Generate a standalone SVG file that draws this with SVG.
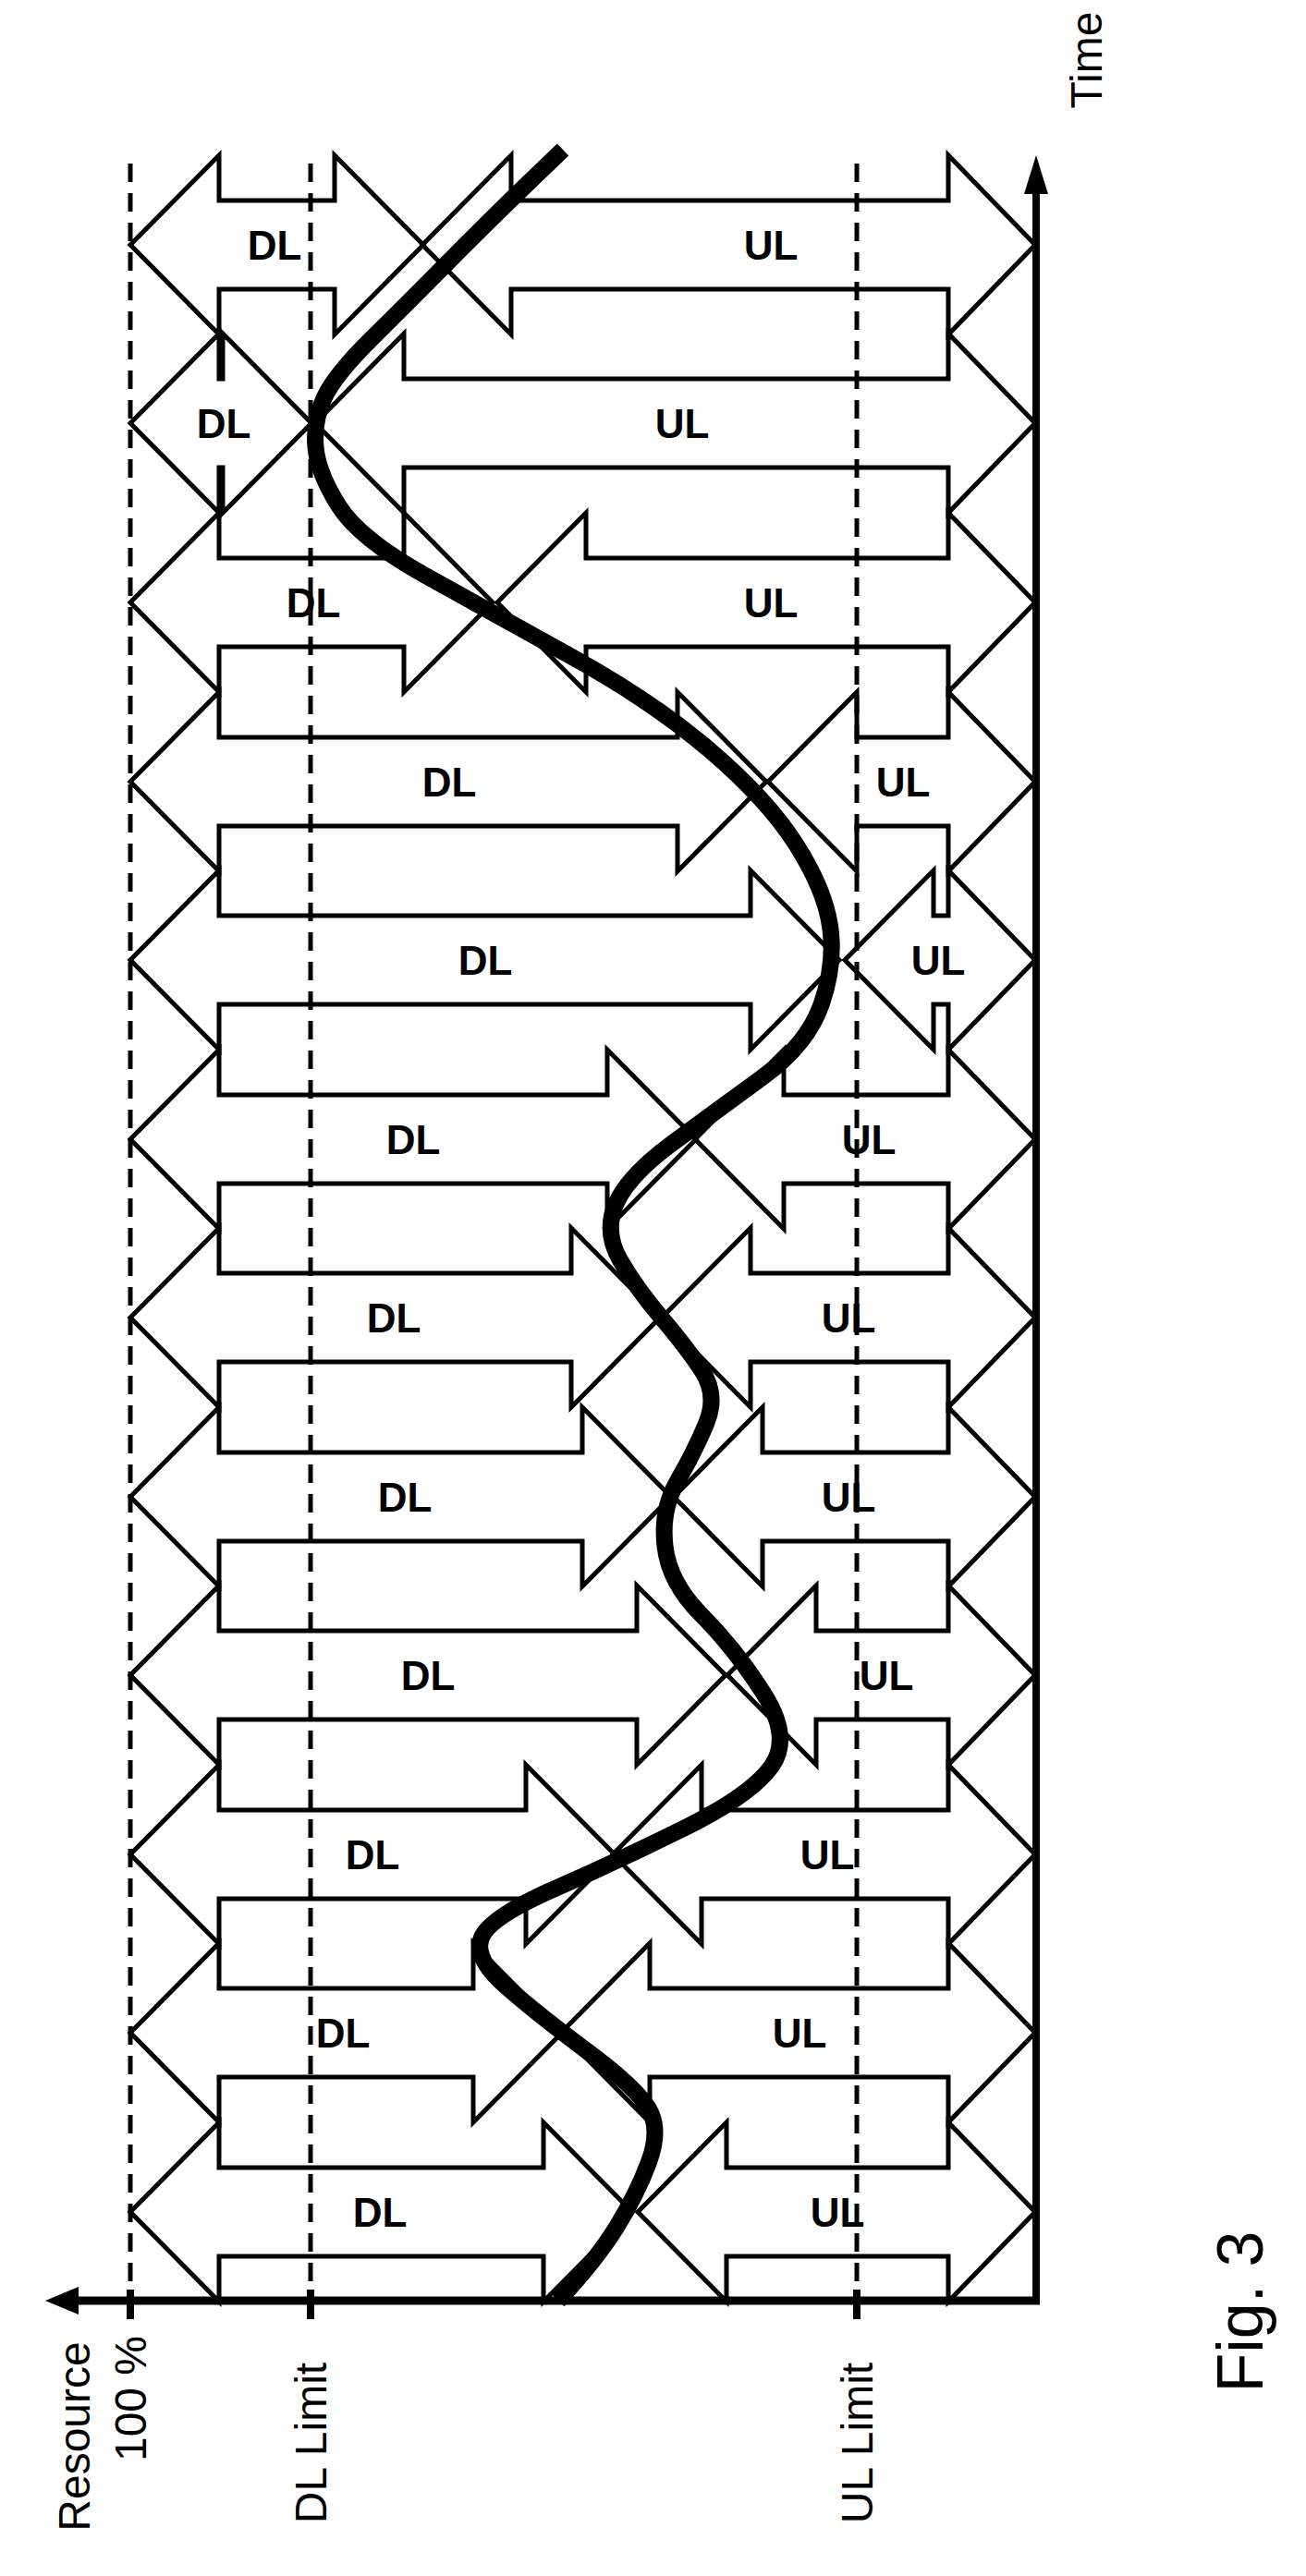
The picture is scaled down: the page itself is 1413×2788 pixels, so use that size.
<svg xmlns="http://www.w3.org/2000/svg" width="1413" height="2788" viewBox="0 0 1413 2788">
<style>
.ar{fill:none;stroke:#000;stroke-width:5;stroke-linejoin:miter}
.lb{font-family:"Liberation Sans",Arial,sans-serif;font-weight:bold;font-size:44px;text-anchor:middle;dominant-baseline:central}
.ax{font-family:"Liberation Sans",Arial,sans-serif;font-size:48px;text-anchor:middle;dominant-baseline:central}
.dash{stroke:#000;stroke-width:5;stroke-dasharray:20 12;fill:none}
</style>
<rect width="1413" height="2788" fill="#fff"/>
<g id="limits">
<line class="dash" x1="141" y1="177" x2="141" y2="2490"/>
<line class="dash" x1="336" y1="177" x2="336" y2="2490"/>
<line class="dash" x1="927" y1="177" x2="927" y2="2490"/>
</g>
<g id="row1"><polygon class="ar" points="141,265 237,168 237,217 362,217 362,168 458,265 362,362 362,313 237,313 237,362"/><polygon class="ar" points="457,265 553,168 553,217 1026,217 1026,168 1120,265 1026,362 1026,313 553,313 553,362"/><text class="lb" x="297" y="265">DL</text><text class="lb" x="834" y="265">UL</text></g>
<g id="row2"><polygon class="ar" points="141,458 237,361 237,410 241,410 241,361 337,458 241,555 241,506 237,506 237,555"/><polygon class="ar" points="341,458 437,361 437,410 1026,410 1026,361 1120,458 1026,555 1026,506 437,506 437,555"/><text class="lb" x="242" y="458">DL</text><text class="lb" x="738" y="458">UL</text></g>
<g id="row3"><polygon class="ar" points="141,652 237,555 237,604 437,604 437,555 533,652 437,749 437,700 237,700 237,749"/><polygon class="ar" points="538,652 634,555 634,604 1026,604 1026,555 1120,652 1026,749 1026,700 634,700 634,749"/><text class="lb" x="339" y="652">DL</text><text class="lb" x="834" y="652">UL</text></g>
<g id="row4"><polygon class="ar" points="141,846 237,749 237,798 733,798 733,749 829,846 733,943 733,894 237,894 237,943"/><polygon class="ar" points="831,846 927,749 927,798 1026,798 1026,749 1120,846 1026,943 1026,894 927,894 927,943"/><text class="lb" x="486" y="846">DL</text><text class="lb" x="977" y="846">UL</text></g>
<g id="row5"><polygon class="ar" points="141,1039 237,942 237,991 812,991 812,942 908,1039 812,1136 812,1087 237,1087 237,1136"/><polygon class="ar" points="914,1039 1010,942 1010,991 1026,991 1026,942 1120,1039 1026,1136 1026,1087 1010,1087 1010,1136"/><text class="lb" x="525" y="1039">DL</text><text class="lb" x="1015" y="1039">UL</text></g>
<g id="row6"><polygon class="ar" points="141,1233 237,1136 237,1185 657,1185 657,1136 753,1233 657,1330 657,1281 237,1281 237,1330"/><polygon class="ar" points="752,1233 848,1136 848,1185 1026,1185 1026,1136 1120,1233 1026,1330 1026,1281 848,1281 848,1330"/><text class="lb" x="447" y="1233">DL</text><text class="lb" x="940" y="1233">UL</text></g>
<g id="row7"><polygon class="ar" points="141,1426 237,1329 237,1378 618,1378 618,1329 714,1426 618,1523 618,1474 237,1474 237,1523"/><polygon class="ar" points="716,1426 812,1329 812,1378 1026,1378 1026,1329 1120,1426 1026,1523 1026,1474 812,1474 812,1523"/><text class="lb" x="426" y="1426">DL</text><text class="lb" x="918" y="1426">UL</text></g>
<g id="row8"><polygon class="ar" points="141,1620 237,1523 237,1572 630,1572 630,1523 726,1620 630,1717 630,1668 237,1668 237,1717"/><polygon class="ar" points="729,1620 825,1523 825,1572 1026,1572 1026,1523 1120,1620 1026,1717 1026,1668 825,1668 825,1717"/><text class="lb" x="438" y="1620">DL</text><text class="lb" x="918" y="1620">UL</text></g>
<g id="row9"><polygon class="ar" points="141,1813 237,1716 237,1765 689,1765 689,1716 785,1813 689,1910 689,1861 237,1861 237,1910"/><polygon class="ar" points="787,1813 883,1716 883,1765 1026,1765 1026,1716 1120,1813 1026,1910 1026,1861 883,1861 883,1910"/><text class="lb" x="463" y="1813">DL</text><text class="lb" x="959" y="1813">UL</text></g>
<g id="row10"><polygon class="ar" points="141,2007 237,1910 237,1959 569,1959 569,1910 665,2007 569,2104 569,2055 237,2055 237,2104"/><polygon class="ar" points="663,2007 759,1910 759,1959 1026,1959 1026,1910 1120,2007 1026,2104 1026,2055 759,2055 759,2104"/><text class="lb" x="403" y="2007">DL</text><text class="lb" x="895" y="2007">UL</text></g>
<g id="row11"><polygon class="ar" points="141,2200 237,2103 237,2152 512,2152 512,2103 608,2200 512,2297 512,2248 237,2248 237,2297"/><polygon class="ar" points="607,2200 703,2103 703,2152 1026,2152 1026,2103 1120,2200 1026,2297 1026,2248 703,2248 703,2297"/><text class="lb" x="371" y="2200">DL</text><text class="lb" x="865" y="2200">UL</text></g>
<g id="row12"><polygon class="ar" points="141,2394 237,2297 237,2346 588,2346 588,2297 684,2394 588,2491 588,2442 237,2442 237,2491"/><polygon class="ar" points="690,2394 786,2297 786,2346 1026,2346 1026,2297 1120,2394 1026,2491 1026,2442 786,2442 786,2491"/><text class="lb" x="411" y="2394">DL</text><text class="lb" x="906" y="2394">UL</text></g>
<g id="curve">
<path fill="none" stroke="#000" stroke-width="18" stroke-linejoin="round" d="M609,162 L569.5,200 Q530,238 486,282.5 Q442,327 402,366.5 Q362,406 350.5,431 Q339,456 341.5,484 Q344,512 366.5,547.5 Q389,583 459.5,622.5 Q530,662 618,710.5 Q706,759 768,812 Q830,865 861,913.5 Q892,962 898,1002 Q904,1042 889,1086 Q874,1130 825.5,1165.5 Q777,1201 728.5,1236.5 Q680,1272 666.5,1302.5 Q653,1333 671,1364 Q689,1395 715.5,1426 Q742,1457 759.5,1483.5 Q777,1510 764,1541 Q751,1572 733,1603 Q715,1634 719.5,1673.5 Q724,1713 759.5,1748.5 Q795,1784 826,1832.5 Q857,1881 834.5,1912 Q812,1943 741.5,1978 Q671,2013 600.5,2044 Q530,2075 521,2097 Q512,2119 547.5,2150 Q583,2181 636,2220.5 Q689,2260 702,2282.5 Q715,2305 702,2340 Q689,2375 667,2410.5 Q645,2446 604,2490"/>
</g>
<g id="connectors">
<line x1="1121" y1="2494" x2="1121" y2="200" stroke="#000" stroke-width="8"/>
<polygon points="1121,168 1108,210 1134,210" fill="#000"/>
<line x1="1125" y1="2490" x2="80" y2="2490" stroke="#000" stroke-width="9"/>
<polygon points="49,2490 85,2475 85,2505" fill="#000"/>
<line x1="141" y1="2478" x2="141" y2="2510" stroke="#000" stroke-width="8"/>
<line x1="336" y1="2478" x2="336" y2="2510" stroke="#000" stroke-width="8"/>
<line x1="927" y1="2478" x2="927" y2="2510" stroke="#000" stroke-width="8"/>
</g>
<g id="labels">
<text class="ax" font-size="42" transform="translate(1175,65) rotate(-90)">Time</text>
<text class="ax" transform="translate(80,2637) rotate(-90)">Resource</text>
<text class="ax" transform="translate(141,2596) rotate(-90)">100 %</text>
<text class="ax" transform="translate(336,2644) rotate(-90)">DL Limit</text>
<text class="ax" transform="translate(927,2644) rotate(-90)">UL Limit</text>
<text class="ax" style="font-size:70px" transform="translate(1342,2502) rotate(-90)">Fig. 3</text>
</g>
</svg>
